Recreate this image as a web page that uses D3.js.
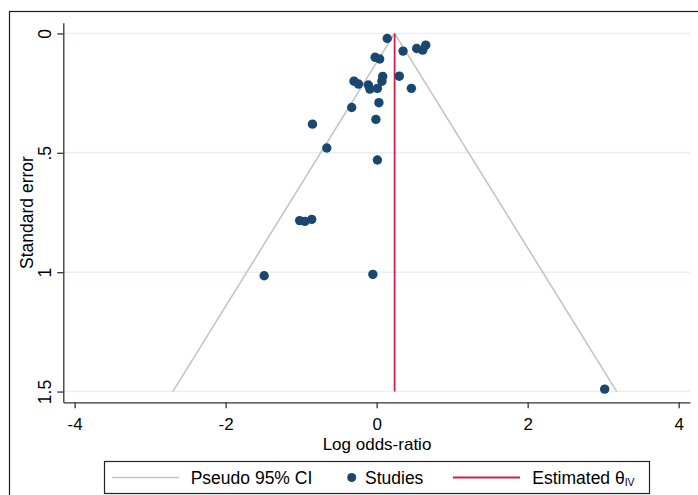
<!DOCTYPE html>
<html><head><meta charset="utf-8">
<script src="https://cdn.jsdelivr.net/npm/d3@7"></script>
<style>
html,body{margin:0;padding:0;background:#fff;}
svg{display:block;font-family:"Liberation Sans",Arial,sans-serif;}
</style></head>
<body>
<svg id="c" width="698" height="495"></svg>
<script>
// ---- data ----
const studyLogOR = [0.14,0.35,0.53,0.61,0.65,-0.02,0.04,-0.30,-0.24,-0.11,-0.09,0.01,0.07,0.08,0.30,0.46,0.03,-0.33,-0.01,-0.85,-0.66,0.01,-1.02,-0.95,-0.86,-1.49,-0.05,3.02];
const studySE    = [0.021,0.074,0.063,0.070,0.049,0.100,0.107,0.200,0.212,0.216,0.233,0.230,0.200,0.180,0.179,0.230,0.290,0.310,0.360,0.380,0.480,0.530,0.784,0.787,0.779,1.015,1.009,1.490];
const theta = 0.238;
const funnelSE = [0, 1.5];
const funnelLower = [0.238, -2.70];
const funnelUpper = [0.238, 3.18];
const xTicks = [-4,-2,0,2,4];
const yTicks = [0,0.5,1,1.5];
const yTickLabels = ["0",".5","1","1.5"];
const legendLabels = ["Pseudo 95% CI","Studies","Estimated θ"];

// ---- layout ----
const svg = d3.select("#c");
const fs = 17.5;
const x = d3.scaleLinear().domain([-4.15,4.15]).range([63.3,690]);
const y = d3.scaleLinear().domain([-0.045,1.545]).range([22.7,402.3]);

// outer frame
svg.append("rect").attr("x",9.5).attr("y",11.5).attr("width",700).attr("height",500)
  .attr("fill","none").attr("stroke","#1a1a1a").attr("stroke-width",1.2);

// gridlines
svg.append("g").selectAll("line").data(yTicks).join("line")
  .attr("x1",x.range()[0]).attr("x2",x.range()[1])
  .attr("y1",d=>y(d)).attr("y2",d=>y(d))
  .attr("stroke","#e7eff1").attr("stroke-width",1.5);

// funnel lines
const line = d3.line().x(d=>x(d[0])).y(d=>y(d[1]));
[funnelLower,funnelUpper].forEach(arr=>{
  svg.append("path").datum(arr.map((v,i)=>[v,funnelSE[i]]))
    .attr("d",line).attr("fill","none").attr("stroke","#c4c4c4").attr("stroke-width",1.6);
});

// estimated theta line
svg.append("path").datum(funnelSE.map(s=>[theta,s]))
  .attr("d",line).attr("fill","none").attr("stroke","#d21f4b").attr("stroke-width",1.8);

// studies
svg.append("g").selectAll("circle").data(studyLogOR.map((v,i)=>[v,studySE[i]])).join("circle")
  .attr("cx",d=>x(d[0])).attr("cy",d=>y(d[1])).attr("r",4.7)
  .attr("fill","#1a476f");

// y axis
const gy = svg.append("g").attr("transform",`translate(${x.range()[0]},0)`)
  .call(d3.axisLeft(y).tickValues(yTicks).tickSize(6).tickSizeOuter(0).tickFormat((d,i)=>yTickLabels[i]));
gy.select(".domain").attr("stroke","#333").attr("stroke-width",1.3);
gy.selectAll(".tick line").attr("stroke","#333").attr("stroke-width",1.3);
gy.selectAll(".tick text").attr("x",null).attr("dy",null)
  .attr("transform","translate(-12.8,0) rotate(-90)")
  .attr("text-anchor","middle").attr("fill","#000")
  .style("font-size",fs+"px").style("font-family","'Liberation Sans',Arial,sans-serif");

// x axis
const gx = svg.append("g").attr("transform",`translate(0,${y.range()[1]})`)
  .call(d3.axisBottom(x).tickValues(xTicks).tickSize(6).tickSizeOuter(0).tickFormat(d3.format("d")));
gx.select(".domain").attr("stroke","#333").attr("stroke-width",1.3);
gx.selectAll(".tick line").attr("stroke","#333").attr("stroke-width",1.3);
gx.selectAll(".tick text").attr("y",27.5).attr("dy",null).attr("fill","#000")
  .style("font-size","17px").style("font-family","'Liberation Sans',Arial,sans-serif");
gx.selectAll(".tick text").text(d=>String(d));

// axis titles
svg.append("text").attr("x",377).attr("y",449.5).attr("text-anchor","middle")
  .style("font-size","17px").text("Log odds-ratio");
svg.append("text").attr("transform",`translate(33,212.5) rotate(-90)`).attr("text-anchor","middle")
  .style("font-size",fs+"px").text("Standard error");

// legend
const lg = svg.append("g");
lg.append("rect").attr("x",104.5).attr("y",461.5).attr("width",545).attr("height",32)
  .attr("fill","#fff").attr("stroke","#222").attr("stroke-width",1.2);
const ly = 477.5, lb = 484;
lg.append("line").attr("x1",111.7).attr("x2",179.3).attr("y1",ly).attr("y2",ly)
  .attr("stroke","#c4c4c4").attr("stroke-width",1.6);
lg.append("text").attr("x",190.7).attr("y",lb).style("font-size",fs+"px").text(legendLabels[0]);
lg.append("circle").attr("cx",351.7).attr("cy",ly).attr("r",4.5).attr("fill","#1a476f");
lg.append("text").attr("x",365).attr("y",lb).style("font-size",fs+"px").text(legendLabels[1]);
lg.append("line").attr("x1",453).attr("x2",520).attr("y1",ly).attr("y2",ly)
  .attr("stroke","#d21f4b").attr("stroke-width",1.8);
const t3 = lg.append("text").attr("x",532.3).attr("y",lb).style("font-size",fs+"px");
t3.append("tspan").text(legendLabels[2]);
t3.append("tspan").attr("dy",2).style("font-size","10.5px").text("IV");
</script>
</body></html>
